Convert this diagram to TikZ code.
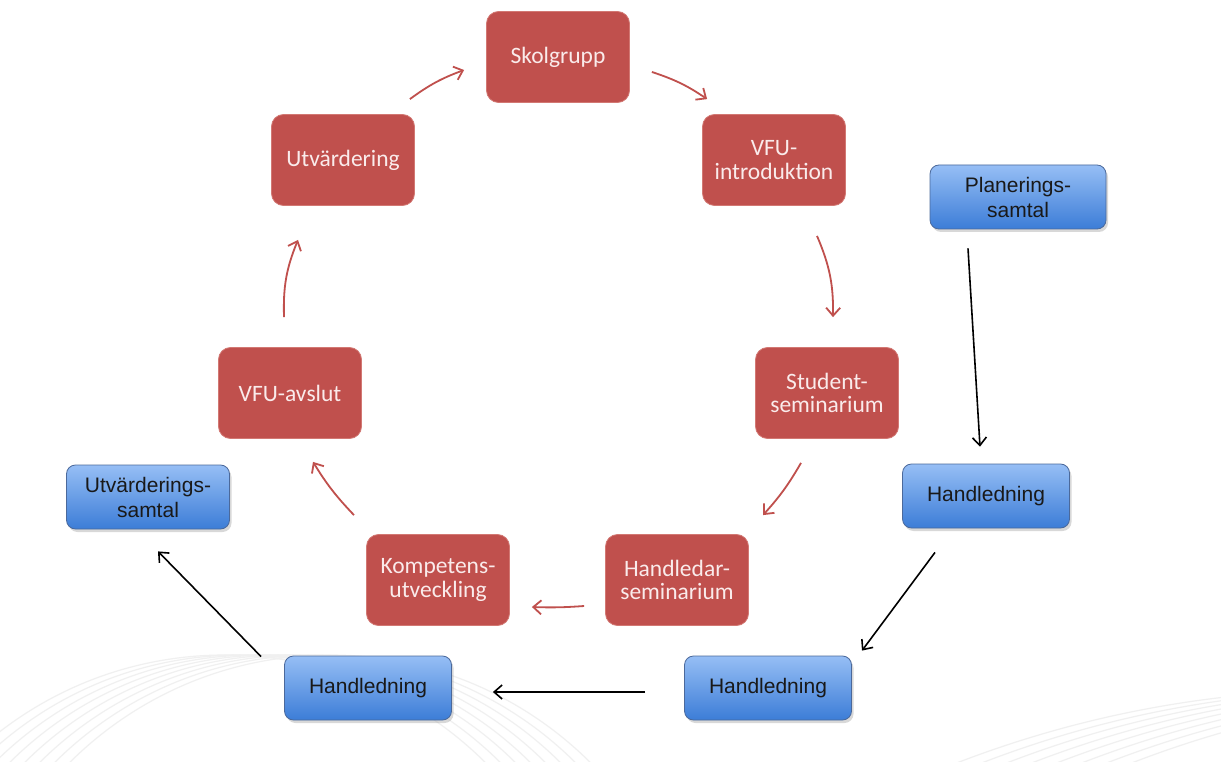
\documentclass[tikz,border=0pt]{standalone}
\usepackage{fontspec}
\newfontfamily\redfont{Carlito}
\newfontfamily\bluefont{Liberation Sans}
\usetikzlibrary{arrows.meta,shadows,calc}
\definecolor{boxred}{RGB}{192,80,77}
\definecolor{boxredline}{RGB}{210,120,115}
\definecolor{bluetop}{RGB}{150,190,245}
\definecolor{bluebot}{RGB}{60,125,215}
\definecolor{blueline}{RGB}{75,105,155}
\definecolor{redtext}{RGB}{250,235,235}
\tikzset{
  redbox/.style={draw=boxredline, line width=0.8pt, fill=boxred, rounded corners=12pt,
    minimum width=143pt, minimum height=91pt, align=center, text=redtext,
    font=\redfont\fontsize{23.5}{23.5}\selectfont, inner sep=2pt},
  bluebox/.style={draw=blueline, line width=0.8pt, top color=bluetop, bottom color=bluebot,
    rounded corners=9pt, minimum width=167pt, minimum height=64pt, align=center,
    text=black!90, font=\bluefont\fontsize{21}{25}\selectfont, inner sep=2pt,
    drop shadow={opacity=0.3, shadow xshift=2pt, shadow yshift=-3pt}},
  redarrow/.style={draw=boxred, line width=1.8pt, -{Straight Barb[length=8pt,width=14pt]}},
  blackarrow/.style={draw=black, line width=1.6pt, -{Straight Barb[length=8pt,width=14pt]}},
  bgline/.style={draw=gray!12, line width=1.2pt}
}
\begin{document}
\begin{tikzpicture}[x=1pt,y=-1pt]
\path[use as bounding box, fill=white] (0,0) rectangle (1221,762);
% faint background arcs
\begin{scope}
\clip (0,600) rectangle (600,762);
\foreach \dx in {0,15,...,105} {
  \draw[bgline] (225+\dx,1024) circle[radius=369];
}
\end{scope}
\begin{scope}
\clip (900,640) rectangle (1221,762);
\foreach \dx in {0,25,...,175} {
  \draw[bgline] (1350+\dx,1782) circle[radius=1092];
}
\end{scope}
% red cycle
\node[redbox] (skol) at (558,57) {Skolgrupp};
\node[redbox] (vfu) at (774,160) {VFU-\\introduktion};
\node[redbox] (stud) at (827,393) {Student-\\seminarium};
\node[redbox] (hled) at (677,580) {Handledar-\\seminarium};
\node[redbox] (komp) at (438,580) {Kompetens-\\utveckling};
\node[redbox] (avsl) at (290,393) {VFU-avslut};
\node[redbox] (utv) at (343,160) {Utvärdering};
% blue boxes
\node[bluebox, minimum width=176pt] (plan) at (1018,197) {Planerings-\\samtal};
\node[bluebox] (h1) at (986,496) {Handledning};
\node[bluebox] (h2) at (768,688) {Handledning};
\node[bluebox] (h3) at (368,688) {Handledning};
\node[bluebox, minimum width=163pt] (utvs) at (148,497) {Utvärderings-\\samtal};
% red arrow end points
\coordinate (r1a) at ($(utv.north east)+(-5,-15)$);
\coordinate (r1b) at ($(skol.west)+(-22,13)$);
\coordinate (r2a) at ($(skol.east)+(22,15)$);
\coordinate (r2b) at ($(vfu.north west)+(5,-15)$);
\coordinate (r3a) at ($(vfu.south)+(43,30)$);
\coordinate (r3b) at ($(stud.north)+(6,-30)$);
\coordinate (r4a) at ($(stud.south)+(-26,24)$);
\coordinate (r4b) at ($(hled.north)+(86,-19)$);
\coordinate (r5a) at ($(hled.west)+(-21,26)$);
\coordinate (r5b) at ($(komp.east)+(22,27)$);
\coordinate (r6a) at ($(komp.north)+(-84,-19)$);
\coordinate (r6b) at ($(avsl.south)+(23,23)$);
\coordinate (r7a) at ($(avsl.north)+(-6,-30)$);
\coordinate (r7b) at ($(utv.south)+(-45,34)$);
\draw[redarrow] (r1a) to[bend left=8] (r1b);
\draw[redarrow] (r2a) to[bend left=8] (r2b);
\draw[redarrow] (r3a) to[bend left=12] (r3b);
\draw[redarrow] (r4a) to[bend left=6] (r4b);
\draw[redarrow] (r5a) to[bend left=3] (r5b);
\draw[redarrow] (r6a) to[bend left=6] (r6b);
\draw[redarrow] (r7a) to[bend left=12] (r7b);
% black arrows
\coordinate (b1a) at ($(plan.south)+(-50,19)$);
\coordinate (b1b) at ($(h1.north)+(-6,-17)$);
\coordinate (b2a) at ($(h1.south)+(-51,24)$);
\coordinate (b2b) at ($(h2.north)+(94,-5)$);
\coordinate (b3a) at ($(h2.west)+(-39,4)$);
\coordinate (b3b) at ($(h3.east)+(41,4)$);
\coordinate (b4a) at ($(h3.north west)+(-23,1)$);
\coordinate (b4b) at ($(utvs.south)+(10,22)$);
\draw[blackarrow] (b1a) -- (b1b);
\draw[blackarrow] (b2a) -- (b2b);
\draw[blackarrow] (b3a) -- (b3b);
\draw[blackarrow] (b4a) -- (b4b);
\end{tikzpicture}
\end{document}
